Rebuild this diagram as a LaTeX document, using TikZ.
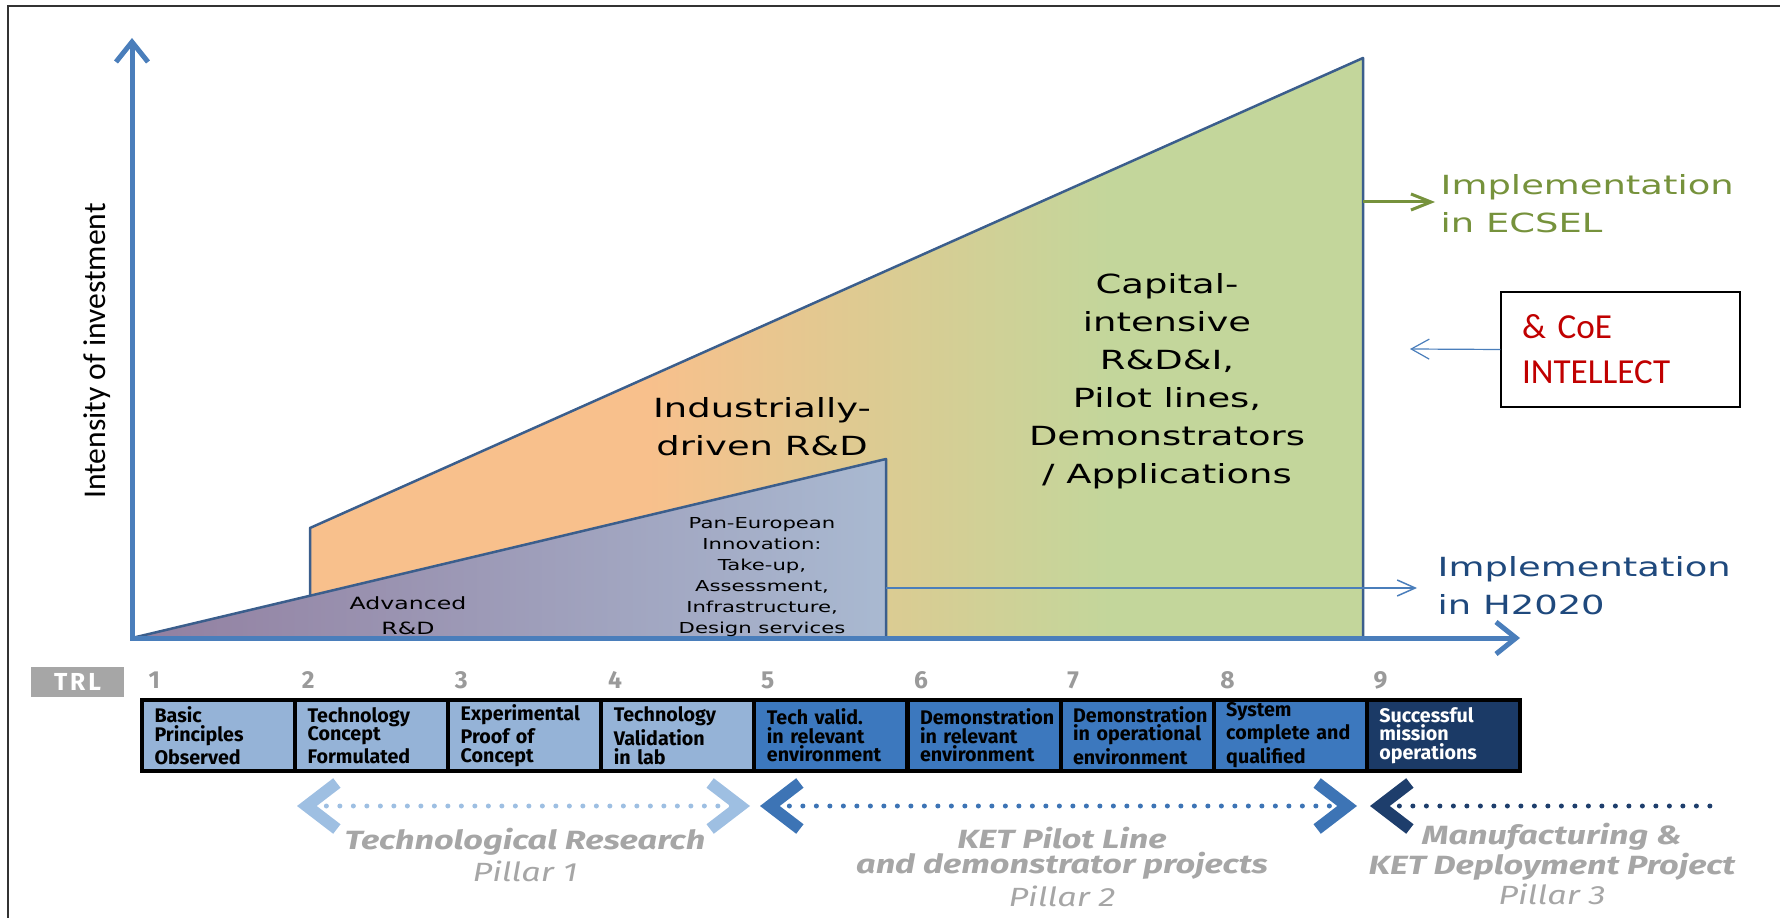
\documentclass[tikz,border=0pt]{standalone}
\usepackage{fontspec}
\setmainfont{Carlito}
\newfontfamily\widefont[FakeStretch=1.4]{DejaVu Sans}
\newfontfamily\trlfont{Fira Sans}
\newfontfamily\pilfont[FakeStretch=1.3]{Fira Sans}
\usetikzlibrary{arrows.meta,positioning}

\definecolor{axisblue}{HTML}{4A7EBB}
\definecolor{edgeblue}{HTML}{3B5E8C}
\definecolor{capor}{HTML}{F8C08C}
\definecolor{captan}{HTML}{DCCB92}
\definecolor{capgr}{HTML}{C3D69B}
\definecolor{advmauve}{HTML}{927FA0}
\definecolor{advblue}{HTML}{A9B9D1}
\definecolor{lowblue}{HTML}{95B3D7}
\definecolor{midblue}{HTML}{3C78BE}
\definecolor{topblue}{HTML}{1B3A66}
\definecolor{pil1}{HTML}{9EBFE2}
\definecolor{pil2}{HTML}{3D74B5}
\definecolor{pil3}{HTML}{1E3E6C}
\definecolor{pilgray}{HTML}{A6A6A6}
\definecolor{numgray}{HTML}{9A9A9A}
\definecolor{ecsel}{HTML}{76923C}
\definecolor{hzz}{HTML}{1F497D}
\definecolor{coered}{HTML}{C00000}

\pgfdeclarehorizontalshading{capshade}{100bp}{color(0bp)=(capor); color(41bp)=(capor); color(52bp)=(captan); color(63bp)=(capgr); color(100bp)=(capgr)}

\tikzset{chev/.tip={Straight Barb[sharp,length=3mm,width=4.6mm,line width=1.2mm 0]}}

\begin{document}
\begin{tikzpicture}
    [x=0.1mm,y=-0.1mm,
    every node/.style={inner sep=0pt},
    axis/.style={draw=axisblue,line width=0.5mm,-{Straight Barb[length=2mm,width=3.2mm]}},
    area/.style={draw=edgeblue,line width=0.25mm,line join=round},
    wide/.style={align=center,font=\widefont\fontsize{7.5}{10.8}\selectfont},
    trlbox/.style={draw=black,line width=0.4mm,anchor=north west,minimum height=7.1mm,
      text width=12.8mm,inner xsep=1.25mm,align=left,
      font=\trlfont\bfseries\fontsize{5.6}{5.3}\selectfont},
    trlnum/.style={anchor=base west,text=numgray,font=\trlfont\bfseries\fontsize{7}{8}\selectfont},
    pillar/.style={line width=0.5mm,line cap=round,dash pattern=on 0mm off 1.35mm},
    piltext/.style={text=pilgray,align=center,font=\pilfont\fontsize{7.5}{7.1}\selectfont}]
    \useasboundingbox (0,0) rectangle (1780,918);
    % frame
    \draw[line width=0.2mm,black!80] (8,918) -- (8,6) -- (1780,6);
    % investment areas
    \shadedraw[area,shading=capshade] (310,528) -- (1363,58) -- (1363,638) -- (310,638) -- cycle;
    \shadedraw[area,left color=advmauve,right color=advblue] (132,638) -- (886,459) -- (886,638) -- cycle;
    % axes
    \coordinate (o) at (132,640);
    \coordinate (ytop) at (132,38);
    \coordinate (xend) at (1520,638);
    \draw[axis] (o) -- (ytop);
    \draw[axis] (130,638) -- (xend);
    \node[rotate=90,font=\fontsize{9}{10}\selectfont] (ylab) at (97,351) {Intensity of investment};
    % area labels
    \node[wide,font=\widefont\fontsize{4.8}{7.1}\selectfont] (adv) at (408,616) {Advanced\\R\&D};
    \node[wide] (ind) at (762,427) {Industrially-\\driven R\&D};
    \node[wide,font=\widefont\fontsize{4.3}{6}\selectfont] (pan) at (762,577)
      {Pan-European\\Innovation:\\Take-up,\\Assessment,\\Infrastructure,\\Design services};
    \node[wide] (cap) at (1167,381)
      {Capital-\\intensive\\R\&D\&I,\\Pilot lines,\\Demonstrators\\/ Applications};
    % implementation
    \node[wide,align=left,anchor=west,text=ecsel] (ecsel) at (1440,204) {Implementation\\in ECSEL};
    \node[wide,align=left,anchor=west,text=hzz] (h2020) at (1437,586) {Implementation\\in H2020};
    \coordinate (esrc) at (1363,202);
    \draw[ecsel,line width=0.3mm,-{Straight Barb[length=2mm,width=1.6mm]},shorten >=0.5mm]
      (esrc) -- (esrc -| ecsel.west);
    \coordinate (hsrc) at (886,588);
    \draw[axisblue,line width=0.15mm,-{Straight Barb[length=1.8mm,width=1.6mm]},shorten >=2mm]
      (hsrc) -- (hsrc -| h2020.west);
    \node[draw=black,line width=0.15mm,minimum width=23.9mm,minimum height=11.5mm,
      text width=19.7mm,align=left,text=coered,font=\fontsize{10}{12.8}\selectfont]
      (coe) at (1620.5,349.5) {\& CoE\\INTELLECT};
    \coordinate (coetip) at (1410,349);
    \draw[axisblue,line width=0.12mm,-{Straight Barb[length=1.8mm,width=2mm]}] (coe.west) -- (coetip);
    % TRL scale
    \node[fill=pilgray,text=white,minimum width=9.3mm,minimum height=3mm,
      font=\trlfont\bfseries\fontsize{7}{8}\selectfont\addfontfeatures{LetterSpace=12}]
      (trl) at (77.5,682) {TRL};
    \foreach \i/\txt/\bg/\fg in {1/{Basic\\Principles\\Observed}/lowblue/black,
        2/{Technology\\Concept\\Formulated}/lowblue/black,
        3/{Experimental\\Proof of\\Concept}/lowblue/black,
        4/{Technology\\Validation\\in lab}/lowblue/black,
        5/{Tech valid.\\in relevant\\environment}/midblue/black,
        6/{Demonstration\\in relevant\\environment}/midblue/black,
        7/{Demonstration\\in operational\\environment}/midblue/black,
        8/{System\\complete and\\qualified}/midblue/black,
        9/{Successful\\mission\\operations}/topblue/white}{
      \node[trlbox,fill=\bg,text=\fg] (lvl\i) at ({140+153.1*(\i-1)},698) {\txt};
      \node[trlnum] (num\i) at ({148+153.1*(\i-1)},688) {\i};
    }
    % pillars
    \coordinate (p1a) at (297,806);
    \coordinate (p1b) at (750,806);
    \coordinate (p2a) at (760,806);
    \coordinate (p2b) at (1357,806);
    \coordinate (p3a) at (1370,806);
    \coordinate (p3b) at (1723,806);
    \draw[pillar,pil1,chev-chev] (p1a) -- (p1b);
    \draw[pillar,pil2,chev-chev] (p2a) -- (p2b);
    \draw[pillar,pil3,chev-] (p3a) -- (p3b);
    \node[piltext] (pil1txt) at (525,855)
      {{\bfseries\itshape Technological Research}\\[0.3mm]{\itshape Pillar 1}};
    \node[piltext] (pil2txt) at (1062,867)
      {{\bfseries\itshape KET Pilot Line}\\{\bfseries\itshape and demonstrator projects}\\[0.4mm]{\itshape Pillar 2}};
    \node[piltext] (pil3txt) at (1552,864)
      {{\bfseries\itshape Manufacturing \&}\\{\bfseries\itshape KET Deployment Project}\\{\itshape Pillar 3}};
\end{tikzpicture}
\end{document}
